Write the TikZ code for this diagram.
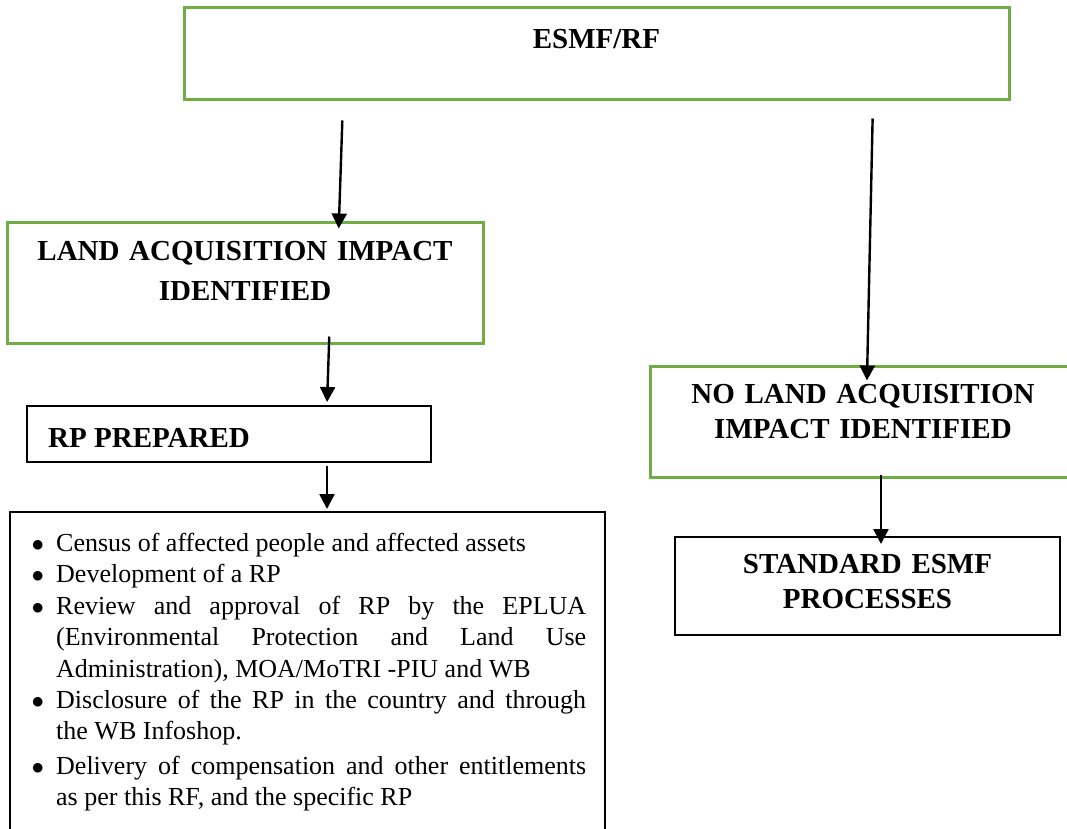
\documentclass[tikz,border=0pt]{standalone}
\usepackage{fontspec}
\setmainfont{Liberation Serif}
\usetikzlibrary{arrows.meta}

\definecolor{boxgreen}{RGB}{112,173,71}
\newcommand{\headfont}{\fontsize{29}{35}\selectfont\bfseries}
\newcommand{\listfont}{\fontsize{26}{31.4}\selectfont}
\newcommand{\bitem}[1]{\par\noindent\hangindent=31pt\hangafter=1\makebox[31pt][l]{\hspace{6.5pt}$\bullet$}#1\par}

\tikzset{
  greenbox/.style={draw=boxgreen, line width=3pt, inner sep=0pt},
  blackbox/.style={draw=black, line width=2pt, inner sep=0pt},
  head/.style={font=\headfont, inner sep=0pt, anchor=base, align=center},
}

\begin{document}
\begin{tikzpicture}[x=1pt, y=-1pt, >={Triangle[length=15pt,width=15pt]}, line width=2.4pt]

  \useasboundingbox (0,0) rectangle (1067,828);

  \node (esmf) at (596.5,53) [greenbox, minimum width=825pt, minimum height=92pt] {};
  \node (lai) at (245,282.5) [greenbox, minimum width=476pt, minimum height=121pt] {};
  \node (rp) at (229,434) [blackbox, minimum width=404pt, minimum height=56pt] {};
  \node (tasks) at (307.5,676) [blackbox, minimum width=595pt, minimum height=328pt] {};
  \node (nolai) at (863,421.5) [greenbox, minimum width=426pt, minimum height=111pt] {};
  \node (std) at (867.5,586) [blackbox, minimum width=385pt, minimum height=98pt] {};

  \node (esmftxt) at (596.5,48) [head] {ESMF/RF};
  \node (laitxt) at (245,260) [head, text width=440pt] {LAND ACQUISITION IMPACT\\[5pt]IDENTIFIED};
  \node (rptxt) at (47,447) [head, anchor=base west] {RP PREPARED};
  \node (nolaitxt) at (863,403) [head, text width=400pt] {NO LAND ACQUISITION\\IMPACT IDENTIFIED};
  \node (stdtxt) at (867.5,573) [head, text width=380pt] {STANDARD ESMF\\PROCESSES};

  \node (taskstxt) at (24,520) [anchor=base west, inner sep=0pt, text width=561pt, align=justify, font=\listfont] {%
    \hyphenpenalty=10000 \exhyphenpenalty=10000 \tolerance=10000 \spaceskip=.25em plus .6em\relax
    \bitem{Census of affected people and affected assets}
    \bitem{Development of a RP}
    \bitem{Review and approval of RP by the EPLUA (Environmental Protection and Land Use Administration), MOA/MoTRI -PIU and WB}
    \bitem{Disclosure of the RP in the country and through the WB Infoshop.}
    \vspace{3pt}
    \bitem{Delivery of compensation and other entitlements as per this RF, and the specific RP}};

  \draw [->, shorten <=20pt, shorten >=-8pt] ([xshift=-253.5pt]esmf.south) -- ([xshift=94pt]lai.north);
  \draw [->, shorten <=18pt, shorten >=-16pt] ([xshift=276.5pt]esmf.south) -- ([xshift=4.3pt]nolai.north);
  \draw [->, shorten <=-8pt, shorten >=3pt] ([xshift=84pt]lai.south) -- ([xshift=98pt]rp.north);
  \draw [->, shorten <=3pt, shorten >=2pt] ([xshift=98pt]rp.south) -- ([xshift=19.5pt]tasks.north);
  \draw [->, shorten <=-4pt, shorten >=-8pt] ([xshift=18pt]nolai.south) -- ([xshift=13.5pt]std.north);

\end{tikzpicture}
\end{document}
